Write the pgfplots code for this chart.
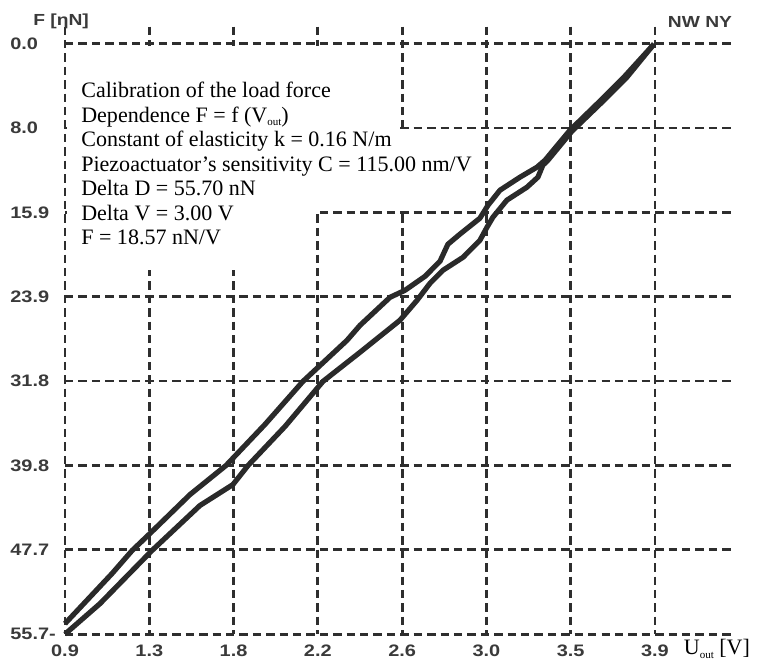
\documentclass[border=0pt]{standalone}
\usepackage{fontspec}
\setmainfont{Liberation Serif}
\newfontfamily\tickfont[FakeStretch=1.2]{Liberation Sans}
\usepackage{pgfplots}
\pgfplotsset{compat=1.18}
\definecolor{gridc}{HTML}{2E2E2E}
\definecolor{curvec}{HTML}{2A2A2A}
\definecolor{labc}{HTML}{3A3A3A}
\newcommand{\sub}[1]{\raisebox{-0.35ex}{\fontsize{5.5}{6}\selectfont #1}}

\begin{document}
\begin{tikzpicture}
\begin{axis}[
    scale only axis,
    width=334pt, height=303.5pt,
    xmin=0.9, xmax=4.3,
    ymin=-1.6, ymax=55.7,
    y dir=reverse,
    clip=false,
    axis line style={draw=none},
    tick style={draw=none},
    grid=major,
    grid style={gridc, line width=1.4pt, dash pattern=on 4.2pt off 2.5pt},
    xtick={0.9,1.328571,1.757143,2.185714,2.614286,3.042857,3.471429,3.9},
    xticklabels={0.9,1.3,1.8,2.2,2.6,3.0,3.5,3.9},
    ytick={0,7.957143,15.914286,23.871429,31.828571,39.785714,47.742857,55.7},
    yticklabels={0.0,8.0,15.9,23.9,31.8,39.8,47.7,55.7-},
    xticklabel style={font=\tickfont\bfseries\fontsize{8.3}{8.3}\selectfont, text=labc,
        anchor=center, yshift=-8.5pt, inner sep=0pt},
    yticklabel style={font=\tickfont\bfseries\fontsize{8.3}{8.3}\selectfont, text=labc,
        anchor=west, xshift=-27.5pt, inner sep=0pt},
]

% white box behind the text block (hides parts of the grid)
\fill[white] (axis cs:0.910,0.19) rectangle (axis cs:2.603,8.26);
\fill[white] (axis cs:0.910,8.26) rectangle (axis cs:2.654,15.81);
\fill[white] (axis cs:0.910,15.81) rectangle (axis cs:2.176,21.38);

% upper branch
\addplot[curvec, line width=2.6pt, line join=round] coordinates {
    (0.900,54.71) (1.139,49.99) (1.241,47.82) (1.332,46.21) (1.536,42.53)
    (1.719,39.79) (1.917,35.92) (2.110,31.86) (2.334,27.99) (2.400,26.58)
    (2.553,23.93) (2.629,23.27) (2.731,21.95) (2.807,20.53) (2.847,18.93)
    (2.908,17.98) (3.010,16.47) (3.051,15.25) (3.112,13.83) (3.214,12.60)
    (3.300,11.66) (3.341,11.00) (3.468,8.17) (3.620,5.43) (3.747,3.07)
    (3.895,0.05)
};

% lower branch
\addplot[curvec, line width=2.6pt, line join=round] coordinates {
    (0.900,55.70) (1.078,52.82) (1.342,47.82) (1.586,43.57) (1.754,41.59)
    (1.831,39.79) (2.019,36.11) (2.212,31.86) (2.400,29.12) (2.603,26.10)
    (2.690,24.22) (2.756,22.61) (2.822,21.38) (2.924,20.16) (3.010,18.55)
    (3.046,17.32) (3.076,16.38) (3.147,14.77) (3.249,13.55) (3.305,12.60)
    (3.330,11.47) (3.356,11.00) (3.478,8.26) (3.631,5.52) (3.758,3.16)
    (3.895,0.05)
};

\node[anchor=north west, align=left, inner sep=0pt,
      font=\fontsize{11}{12.25}\selectfont]
  at (axis cs:0.981,3.60) {Calibration of the load force\\
    Dependence F = f (V\sub{out})\\
    Constant of elasticity k = 0.16 N/m\\
    Piezoactuator's sensitivity C = 115.00 nm/V\\
    Delta D = 55.70 nN\\
    Delta V = 3.00 V\\
    F = 18.57 nN/V};

\node[font=\tickfont\bfseries\fontsize{8}{8}\selectfont, text=labc, inner sep=0pt]
  at (axis cs:0.880,-2.12) {F [ηN]};
\node[font=\tickfont\bfseries\fontsize{8}{8}\selectfont, text=labc, inner sep=0pt]
  at (axis cs:4.129,-2.03) {NW NY};
\node[anchor=base west, inner sep=0pt, font=\fontsize{11}{12}\selectfont]
  at (axis cs:4.045,57.63) {U\sub{out} [V]};

\coordinate (bbA) at (axis cs:0.5695,-4.107);
\coordinate (bbB) at (axis cs:4.424,58.58);
\end{axis}
\pgfresetboundingbox
\useasboundingbox (bbA) rectangle (bbB);
\end{tikzpicture}
\end{document}
